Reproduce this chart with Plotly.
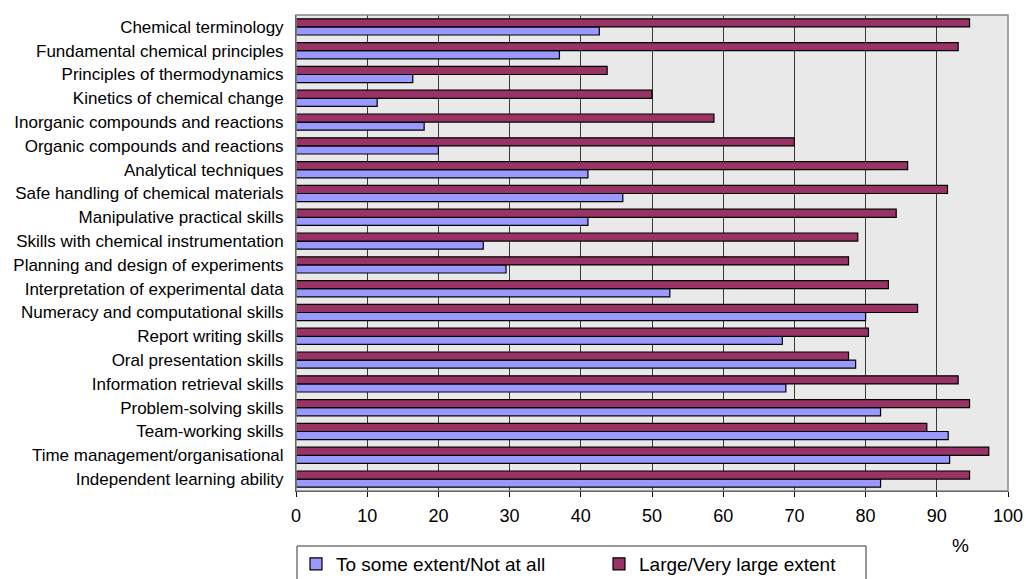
import plotly.graph_objects as go

categories = [
    "Chemical terminology",
    "Fundamental chemical principles",
    "Principles of thermodynamics",
    "Kinetics of chemical change",
    "Inorganic compounds and reactions",
    "Organic compounds and reactions",
    "Analytical techniques",
    "Safe handling of chemical materials",
    "Manipulative practical skills",
    "Skills with chemical instrumentation",
    "Planning and design of experiments",
    "Interpretation of experimental data",
    "Numeracy and computational skills",
    "Report writing skills",
    "Oral presentation skills",
    "Information retrieval skills",
    "Problem-solving skills",
    "Team-working skills",
    "Time management/organisational",
    "Independent learning ability",
]

some_extent = [42.6, 37.0, 16.4, 11.4, 18.0, 20.0, 41.0, 45.9, 41.0, 26.3,
               29.5, 52.5, 80.0, 68.3, 78.6, 68.8, 82.1, 91.6, 91.8, 82.1]
large_extent = [94.6, 93.0, 43.7, 50.0, 58.7, 70.0, 85.9, 91.5, 84.3, 78.9,
                77.6, 83.2, 87.3, 80.4, 77.6, 93.0, 94.6, 88.6, 97.3, 94.6]

x_ticks = list(range(0, 101, 10))

W, H = 1026, 579
L, R, T, B = 296, 18, 15, 88
pw, ph = W - L - R, H - T - B


def px_x(px):
    return (px - L) / pw


def px_y(py):
    return (T + ph - py) / ph


fig = go.Figure()
fig.add_trace(go.Bar(
    y=categories, x=some_extent, orientation="h",
    name="To some extent/Not at all",
    marker=dict(color="#9999FF", line=dict(color="black", width=1.2)),
))
fig.add_trace(go.Bar(
    y=categories, x=large_extent, orientation="h",
    name="Large/Very large extent",
    marker=dict(color="#993366", line=dict(color="black", width=1.2)),
))

fig.update_layout(
    width=W, height=H,
    margin=dict(l=L, r=R, t=T, b=B, autoexpand=False),
    paper_bgcolor="white",
    plot_bgcolor="#E9E9E9",
    barmode="group",
    bargap=0.32,
    bargroupgap=0.0,
    font=dict(family="Liberation Sans, Arial, sans-serif", size=17, color="black"),
    xaxis=dict(
        range=[0, 100], tickvals=x_ticks, ticktext=[str(t) for t in x_ticks],
        showgrid=True, gridcolor="#3a3a3a", gridwidth=1,
        showline=True, linecolor="black", linewidth=1,
        ticks="outside", ticklen=5, tickcolor="black",
        tickfont=dict(size=18), zeroline=False, automargin=False,
        ticklabelstandoff=3,
    ),
    yaxis=dict(
        categoryorder="array", categoryarray=list(reversed(categories)),
        showline=True, linecolor="black", linewidth=1,
        ticks="", tickfont=dict(size=17), showgrid=False, automargin=False,
        ticklabelstandoff=8,
    ),
    legend=dict(
        orientation="h", x=0.0, xanchor="left",
        yref="container", y=(H - 545) / H, yanchor="top",
        borderwidth=0, bgcolor="rgba(0,0,0,0)",
        font=dict(size=19), entrywidth=258, entrywidthmode="pixels",
        traceorder="normal",
    ),
    showlegend=True,
)

# plot area border
fig.add_shape(type="rect", xref="paper", yref="paper", x0=0, x1=1, y0=0, y1=1,
              line=dict(color="#888888", width=1.5), layer="above")
# legend frame (extends below the visible page like the reference)
fig.add_shape(type="rect", xref="paper", yref="paper",
              x0=px_x(297), x1=px_x(866), y0=px_y(600), y1=px_y(546),
              line=dict(color="#333333", width=1), fillcolor="rgba(0,0,0,0)")

fig.add_annotation(text="%", xref="paper", yref="paper",
                   x=px_x(960), y=px_y(545),
                   xanchor="center", yanchor="middle", showarrow=False,
                   font=dict(size=19))

fig.write_html("out.html", config={"displayModeBar": False},
               post_script="document.body.style.margin='0px';")
